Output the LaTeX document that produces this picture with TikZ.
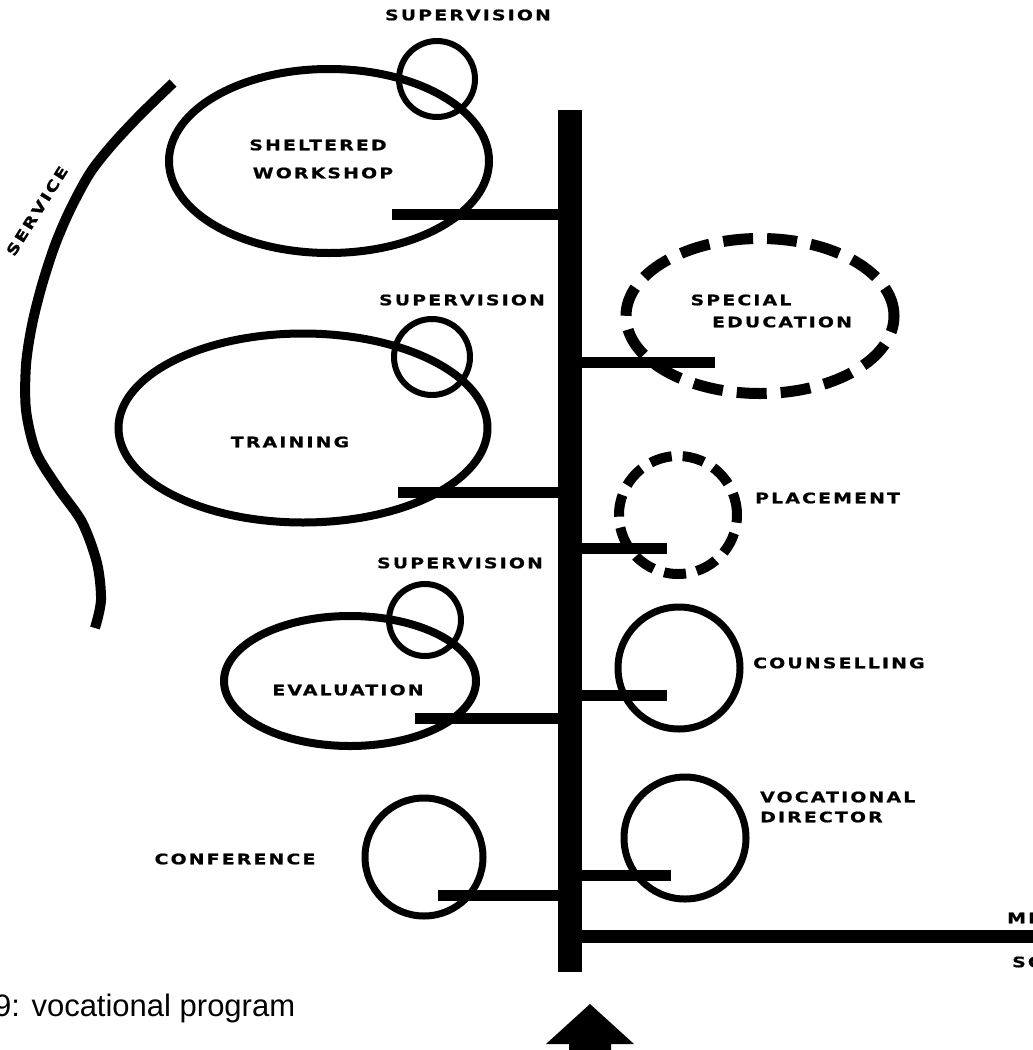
\documentclass[tikz,border=0pt]{standalone}
\usepackage{fontspec}
\setmainfont{Liberation Sans}
\newfontfamily\labf{DejaVu Sans}[FakeStretch=1.3,LetterSpace=15,FakeBold=0.8]
\usetikzlibrary{shapes.geometric}
\begin{document}
\begin{tikzpicture}[x=1pt,y=-1pt,
  lab/.style={font=\labf\bfseries\fontsize{14.5}{16}\selectfont, inner sep=0pt, text=black},
  bigell/.style={ellipse, draw, line width=8pt, inner sep=0pt},
  supcirc/.style={circle, draw, line width=6pt, inner sep=0pt},
  ring/.style={circle, draw, line width=7pt, inner sep=0pt},
  conn/.style={line width=11pt},
  dashell/.style={ellipse, draw, line width=11pt, inner sep=0pt, dash pattern=on 30pt off 14pt},
  dashcirc/.style={circle, draw, line width=10pt, inner sep=0pt, dash pattern=on 22pt off 11pt}
]
\useasboundingbox (0,0) rectangle (1033,1050);
\fill[white] (0,0) rectangle (1033,1050);

% service arc
\draw[line width=10pt] plot[smooth] coordinates {(173,83) (140,115) (112,145) (90,173) (70,210) (55,245) (42,285) (32,325) (26,365) (26,410) (36,452) (58,488) (82,522) (97,563) (101,600) (95,628)};
\node[lab, rotate=58] (service) at (37,211) {SERVICE};

% left ellipses
\node[bigell, minimum width=320pt, minimum height=184pt] (sw) at (329,161) {};
\node[supcirc, minimum size=76pt] (sup1) at (437,79) {};
\node[bigell, minimum width=369pt, minimum height=189pt] (tr) at (303,428) {};
\node[supcirc, minimum size=76pt] (sup2) at (432,357) {};
\node[bigell, minimum width=252pt, minimum height=130pt] (ev) at (350,681) {};
\node[supcirc, minimum size=72pt] (sup3) at (425,620) {};
\node[ring, minimum size=118pt] (cf) at (424,857) {};

% right shapes
\node[dashell, minimum width=268pt, minimum height=155pt] (se) at (760,316) {};
\node[dashcirc, minimum size=118pt] (pl) at (678,515) {};
\node[ring, minimum size=122pt] (co) at (679,668) {};
\node[ring, minimum size=122pt] (vd) at (685,838) {};

% main bar
\node[fill=black, minimum width=24pt, minimum height=862pt, inner sep=0pt] (bar) at (570,541) {};

% connector ends
\coordinate (swc) at (392,214);
\coordinate (trc) at (398,492);
\coordinate (evc) at (415,718);
\coordinate (cfc) at (438,895);
\coordinate (sec) at (715,362);
\coordinate (plc) at (667,548);
\coordinate (coc) at (667,695);
\coordinate (vdc) at (671,875);
\coordinate (msc) at (1045,936);

\draw[conn] (swc) -- (swc -| bar.center);
\draw[conn] (trc) -- (trc -| bar.center);
\draw[conn] (evc) -- (evc -| bar.center);
\draw[conn] (cfc) -- (cfc -| bar.center);
\draw[conn] (sec -| bar.center) -- (sec);
\draw[conn] (plc -| bar.center) -- (plc);
\draw[conn] (coc -| bar.center) -- (coc);
\draw[conn] (vdc -| bar.center) -- (vdc);
\draw[line width=13pt] (msc -| bar.center) -- (msc);

% labels
\node[lab] (l1) at (468,15) {SUPERVISION};
\node[lab] (l2) at (462,300) {SUPERVISION};
\node[lab] (l3) at (460,563) {SUPERVISION};
\node[lab] (l4) at (318,145) {SHELTERED};
\node[lab] (l5) at (323,173) {WORKSHOP};
\node[lab] (l6) at (290,442) {TRAINING};
\node[lab] (l7) at (348,690) {EVALUATION};
\node[lab] (l8) at (741,300) {SPECIAL};
\node[lab] (l9) at (782,322) {EDUCATION};
\node[lab, anchor=west] (l10) at (755,498) {PLACEMENT};
\node[lab, anchor=west] (l11) at (753,663) {COUNSELLING};
\node[lab, anchor=west] (l12) at (760,797) {VOCATIONAL};
\node[lab, anchor=west] (l13) at (760,817) {DIRECTOR};
\node[lab] (l14) at (235,859) {CONFERENCE};
\node[lab, anchor=west] (l15) at (1007,918) {ME};
\node[lab, anchor=west] (l16) at (1012,962) {SO};

% caption
\node[anchor=base west, inner sep=0pt, font=\fontsize{31}{34}\selectfont] (cap) at (-6,1016) {9: vocational program};

% arrow
\fill (590,1004) -- (634,1044) -- (611,1044) -- (611,1060) -- (569,1060) -- (569,1044) -- (546,1044) -- cycle;
\end{tikzpicture}
\end{document}
